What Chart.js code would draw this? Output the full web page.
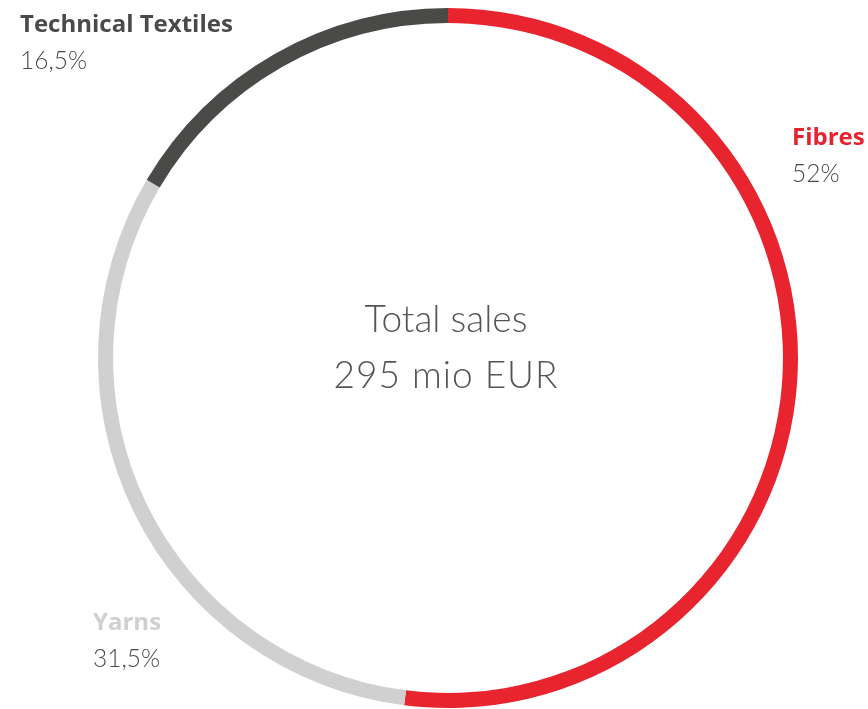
<!DOCTYPE html>
<html>
<head>
<meta charset="utf-8">
<script src="https://cdn.jsdelivr.net/npm/chart.js@4/dist/chart.umd.min.js"></script>
<style>
  html, body { margin: 0; padding: 0; background: #fff; }
  #wrap { width: 868px; height: 709px; position: relative; }
</style>
</head>
<body>
<div id="wrap"><canvas id="salesChart" width="868" height="709"></canvas></div>
<script>
const categories = ['Fibres', 'Yarns', 'Technical Textiles'];
const shares = [52, 31.5, 16.5];
const shareLabels = ['52%', '31,5%', '16,5%'];
const sliceColors = ['#e8252f', '#d0d0d0', '#4a4a48'];
const centerLines = ['Total sales', '295 mio EUR'];

// label anchors (left x, baseline of name)
const labelPos = [
    { x: 792, y: 145 },
    { x: 93, y: 630 },
    { x: 20, y: 32 }
];
const nameColors = ['#e52330', '#d0d0d0', '#4a4a48'];

const labelsPlugin = {
    id: 'labels',
    afterDraw: function (chart) {
        const ctx = chart.ctx;
        ctx.save();
        ctx.textAlign = 'left';
        ctx.textBaseline = 'alphabetic';
        categories.forEach(function (name, i) {
            const p = labelPos[i];
            ctx.fillStyle = nameColors[i];
            ctx.font = 'bold 24px "Open Sans", sans-serif';
            ctx.fillText(name, p.x, p.y);
            ctx.fillStyle = '#4a4a4a';
            ctx.font = '300 24.5px Lato, sans-serif';
            ctx.fillText(shareLabels[i], p.x, p.y + 37);
        });
        // centre text
        const meta = chart.getDatasetMeta(0).data[0];
        ctx.textAlign = 'center';
        ctx.fillStyle = '#555555';
        ctx.font = '300 37px Lato, sans-serif';
        ctx.fillText(centerLines[0], meta.x - 2, 332);
        ctx.letterSpacing = '1px';
        ctx.fillText(centerLines[1], meta.x - 2, 388);
        ctx.restore();
    }
};

const ctx = document.getElementById('salesChart').getContext('2d');
new Chart(ctx, {
    type: 'doughnut',
    data: {
        labels: categories,
        datasets: [{
            data: shares,
            backgroundColor: sliceColors,
            borderWidth: 0,
            hoverOffset: 0
        }]
    },
    options: {
        responsive: false,
        animation: false,
        cutout: '95.7%',
        layout: {
            padding: { left: 98, right: 70, top: 8, bottom: 1 }
        },
        plugins: {
            legend: { display: false },
            tooltip: { enabled: false }
        }
    },
    plugins: [labelsPlugin]
});
</script>
</body>
</html>
